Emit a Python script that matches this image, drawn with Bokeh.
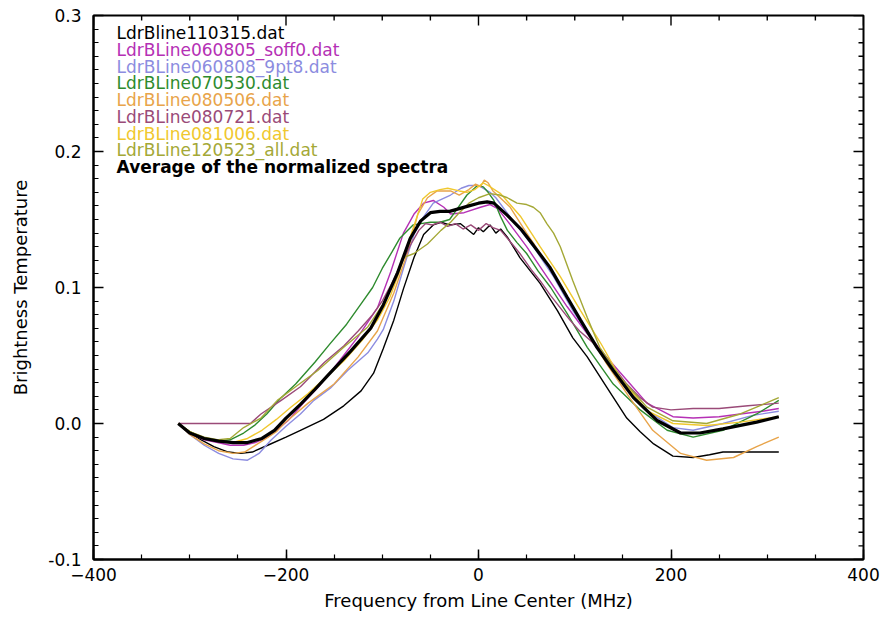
from bokeh.plotting import figure
from bokeh.models import FixedTicker, PrintfTickFormatter
from bokeh.embed import file_html
from bokeh.resources import INLINE

# ---- spectra (frequency offset in MHz, normalized brightness temperature) ----
x_110315 = [-312, -300, -288, -275, -260, -247, -235, -219, -200, -185, -161, -140, -122, -109,
            -99, -88, -78, -67, -57, -47, -39, -30, -19, -12, -5, 0, 5, 12, 18, 23, 30, 43, 54,
            64, 82, 98, 113, 133, 154, 168, 182, 202, 223, 240, 254, 280, 312]
y_110315 = [0.0, -0.007, -0.012, -0.017, -0.021, -0.022, -0.021, -0.016, -0.010, -0.005, 0.003,
            0.013, 0.024, 0.037, 0.055, 0.076, 0.099, 0.122, 0.139, 0.146, 0.148, 0.146, 0.147,
            0.143, 0.139, 0.144, 0.141, 0.146, 0.140, 0.143, 0.137, 0.122, 0.112, 0.103, 0.083,
            0.063, 0.049, 0.027, 0.004, -0.006, -0.015, -0.024, -0.025, -0.023, -0.021, -0.021,
            -0.021]

x_060805 = [-312, -300, -285, -271, -258, -244, -232, -219, -198, -182, -165, -150, -126, -105,
            -91, -78, -67, -57, -47, -36, -29, -15, 2, 12, 20, 30, 50, 71, 92, 113, 133, 154,
            175, 202, 223, 250, 272, 295, 312]
y_060805 = [0.0, -0.007, -0.012, -0.014, -0.016, -0.016, -0.014, -0.010, 0.002, 0.015, 0.028,
            0.041, 0.063, 0.085, 0.112, 0.140, 0.154, 0.162, 0.164, 0.159, 0.154, 0.155, 0.159,
            0.161, 0.158, 0.149, 0.130, 0.108, 0.086, 0.066, 0.049, 0.032, 0.015, 0.005, 0.004,
            0.005, 0.007, 0.009, 0.011]

x_060808 = [-312, -300, -285, -270, -255, -240, -228, -216, -200, -185, -171, -154, -136, -115,
            -105, -99, -88, -78, -67, -60, -47, -29, -18, -10, 0, 12, 18, 36, 57, 78, 98, 123,
            147, 175, 202, 223, 254, 285, 312]
y_060808 = [0.0, -0.008, -0.016, -0.022, -0.026, -0.027, -0.022, -0.0125, -0.002, 0.007, 0.017,
            0.026, 0.039, 0.052, 0.062, 0.069, 0.090, 0.114, 0.139, 0.149, 0.162, 0.168, 0.173,
            0.175, 0.175, 0.170, 0.166, 0.149, 0.130, 0.108, 0.083, 0.056, 0.032, 0.0095,
            -0.003, -0.005, 0.0, 0.006, 0.009]

x_070530 = [-312, -300, -285, -271, -258, -244, -232, -220, -205, -190, -170, -155, -137, -120,
            -110, -100, -90, -82, -75, -68, -60, -50, -40, -30, -22, -12, -1, 5, 10, 16, 23, 30,
            40, 50, 62, 75, 92, 113, 140, 168, 196, 223, 254, 289, 312]
y_070530 = [0.0, -0.006, -0.011, -0.013, -0.012, -0.007, -0.001, 0.007, 0.019, 0.029, 0.045,
            0.058, 0.073, 0.090, 0.100, 0.114, 0.126, 0.136, 0.141, 0.146, 0.147, 0.148, 0.148,
            0.150, 0.158, 0.168, 0.175, 0.174, 0.170, 0.164, 0.152, 0.142, 0.133, 0.125, 0.112,
            0.100, 0.081, 0.056, 0.029, 0.010, -0.005, -0.010, -0.005, 0.007, 0.017]

x_080506 = [-312, -300, -285, -270, -255, -243, -225, -210, -202, -177, -150, -125, -105, -88,
            -74, -63, -53, -43, -29, -20, -10, -3, 2, 6, 10, 15, 33, 50, 71, 92, 113, 133, 157,
            181, 210, 237, 265, 289, 312]
y_080506 = [0.0, -0.008, -0.015, -0.020, -0.022, -0.021, -0.013, -0.006, 0.0, 0.015, 0.029,
            0.049, 0.068, 0.096, 0.125, 0.154, 0.166, 0.171, 0.171, 0.168, 0.172, 0.176, 0.174,
            0.179, 0.177, 0.171, 0.159, 0.140, 0.118, 0.093, 0.068, 0.044, 0.019, -0.005,
            -0.022, -0.027, -0.025, -0.017, -0.010]

x_080721 = [-312, -280, -250, -237, -226, -205, -185, -160, -140, -125, -110, -100, -90, -80,
            -70, -62, -55, -48, -40, -32, -24, -16, -8, 0, 8, 15, 23, 35, 43, 55, 64, 75, 85, 95,
            105, 118, 127, 140, 154, 168, 181, 200, 223, 250, 280, 312]
y_080721 = [0.0, 0.0, 0.0, 0.0, 0.007, 0.017, 0.027, 0.045, 0.057, 0.068, 0.080, 0.090, 0.103,
            0.118, 0.132, 0.142, 0.147, 0.146, 0.148, 0.145, 0.147, 0.143, 0.146, 0.142, 0.147,
            0.144, 0.142, 0.132, 0.125, 0.113, 0.105, 0.094, 0.085, 0.076, 0.068, 0.060, 0.054,
            0.042, 0.029, 0.019, 0.012, 0.010, 0.011, 0.011, 0.013, 0.015]

x_081006 = [-312, -300, -285, -271, -255, -240, -225, -210, -195, -177, -160, -140, -120, -105,
            -92, -82, -72, -62, -58, -50, -40, -32, -20, -12, -4, 5, 10, 23, 44, 64, 85, 106,
            127, 147, 175, 202, 237, 272, 312]
y_081006 = [0.0, -0.006, -0.011, -0.013, -0.014, -0.011, -0.005, 0.003, 0.012, 0.022, 0.033,
            0.046, 0.062, 0.076, 0.093, 0.112, 0.135, 0.156, 0.165, 0.170, 0.172, 0.173, 0.171,
            0.170, 0.172, 0.177, 0.175, 0.169, 0.152, 0.130, 0.108, 0.083, 0.059, 0.034, 0.0095,
            0.0, -0.0015, 0.001, 0.005]

x_120523 = [-312, -300, -285, -270, -258, -244, -226, -209, -190, -167, -140, -115, -99, -88,
            -78, -67, -53, -39, -29, -20, -10, 0, 12, 22, 30, 40, 50, 57, 64, 71, 78, 85, 98,
            113, 126, 147, 175, 202, 237, 272, 312]
y_120523 = [0.0, -0.006, -0.010, -0.012, -0.011, -0.003, 0.004, 0.017, 0.027, 0.039, 0.056,
            0.071, 0.088, 0.105, 0.122, 0.125, 0.132, 0.142, 0.148, 0.155, 0.162, 0.166, 0.169,
            0.168, 0.166, 0.162, 0.161, 0.159, 0.155, 0.147, 0.140, 0.130, 0.105, 0.078, 0.056,
            0.034, 0.012, 0.002, 0.0, 0.007, 0.019]

x_avg = [-312, -300, -285, -270, -255, -240, -225, -212, -200, -185, -170, -157, -133, -112,
         -99, -84, -71, -60, -50, -40, -30, -20, -10, 0, 9, 16, 30, 44, 57, 74, 92, 106, 123,
         140, 161, 186, 210, 230, 254, 289, 312]
y_avg = [0.0, -0.007, -0.011, -0.013, -0.014, -0.014, -0.011, -0.005, 0.004, 0.014, 0.025,
         0.035, 0.053, 0.070, 0.087, 0.111, 0.136, 0.149, 0.155, 0.156, 0.156, 0.158, 0.160,
         0.162, 0.163, 0.162, 0.153, 0.143, 0.131, 0.115, 0.093, 0.076, 0.056, 0.039, 0.019,
         0.002, -0.007, -0.007, -0.004, 0.001, 0.005]

names = ["LdrBline110315.dat", "LdrBLine060805_soff0.dat", "LdrBLine060808_9pt8.dat",
         "LdrBLine070530.dat", "LdrBLine080506.dat", "LdrBLine080721.dat",
         "LdrBLine081006.dat", "LdrBLine120523_all.dat"]
avg_name = "Average of the normalized spectra"
series_x = [x_110315, x_060805, x_060808, x_070530, x_080506, x_080721, x_081006, x_120523]
series_y = [y_110315, y_060805, y_060808, y_070530, y_080506, y_080721, y_081006, y_120523]
colors = ["#000000", "#B530B5", "#8C8CE0", "#2E8B2E", "#E8A44A", "#9A4A78", "#F0C82E", "#A4A836"]

# axis ticks
x_major = [-400, -200, 0, 200, 400]
x_minor = [-400 + 50 * i for i in range(17)]
y_major = [-0.1, 0.0, 0.1, 0.2, 0.3]
y_minor = [round(-0.1 + 0.01 * i, 2) for i in range(41)]

FONT = "DejaVu Sans"
X0, X1, Y0, Y1 = -400, 400, -0.1, 0.3

W, H = 883, 621
BL, BR, BT, BB = 93, 20, 15, 62

p = figure(width=W, height=H, x_range=(X0, X1), y_range=(Y0, Y1),
           output_backend="svg", toolbar_location=None,
           min_border_left=BL, min_border_right=BR, min_border_top=BT, min_border_bottom=BB)
p.background_fill_color = "white"
p.border_fill_color = "white"
p.xgrid.visible = False
p.ygrid.visible = False
p.outline_line_color = "black"
p.outline_line_width = 2

for ax, major, minor in ((p.xaxis[0], x_major, x_minor), (p.yaxis[0], y_major, y_minor)):
    ax.ticker = FixedTicker(ticks=major, minor_ticks=minor)
    ax.axis_line_color = "black"
    ax.axis_line_width = 2
    ax.major_tick_line_color = "black"
    ax.minor_tick_line_color = "black"
    ax.major_tick_line_width = 1.5
    ax.minor_tick_line_width = 1.2
    ax.major_tick_in = 10
    ax.major_tick_out = 0
    ax.minor_tick_in = 5
    ax.minor_tick_out = 0
    ax.major_label_text_font = FONT
    ax.major_label_text_font_size = "17px"
    ax.major_label_text_color = "black"
    ax.axis_label_text_font = FONT
    ax.axis_label_text_font_size = "18px"
    ax.axis_label_text_font_style = "normal"
    ax.axis_label_text_color = "black"

p.xaxis[0].axis_label = "Frequency from Line Center (MHz)"
p.yaxis[0].axis_label = "Brightness Temperature"
p.yaxis[0].formatter = PrintfTickFormatter(format="%.1f")
p.xaxis[0].major_label_standoff = 8
p.xaxis[0].axis_label_standoff = 6
p.yaxis[0].major_label_standoff = 12
p.yaxis[0].axis_label_standoff = 14

# mirrored inward ticks along the top and right edges of the frame
frame_w = W - BL - BR
frame_h = H - BT - BB
px_x = (X1 - X0) / frame_w      # data units per pixel, horizontal
px_y = (Y1 - Y0) / frame_h      # data units per pixel, vertical


def tick_len(v, major, length_major, length_minor):
    return length_major if any(abs(v - m) < 1e-9 for m in major) else length_minor


top_x = x_minor
top_len = [tick_len(v, x_major, 10, 5) * px_y for v in top_x]
p.segment(x0=top_x, y0=[Y1] * len(top_x), x1=top_x, y1=[Y1 - d for d in top_len],
          line_color="black", line_width=1.4)
right_y = y_minor
right_len = [tick_len(v, y_major, 10, 5) * px_x for v in right_y]
p.segment(x0=[X1] * len(right_y), y0=right_y, x1=[X1 - d for d in right_len], y1=right_y,
          line_color="black", line_width=1.4)

for xs, ys, c in zip(series_x, series_y, colors):
    p.line(xs, ys, line_color=c, line_width=1.4)
p.line(x_avg, y_avg, line_color="black", line_width=3.2)

# stacked legend text in the upper-left corner
legend_x = -376
legend_top = 0.287
legend_step = 0.0123
for i, (name, c) in enumerate(zip(names, colors)):
    p.text(x=[legend_x], y=[legend_top - i * legend_step], text=[name],
           text_color=c, text_font_size="17px", text_baseline="middle",
           text_font={"value": FONT})
p.text(x=[legend_x], y=[legend_top - len(names) * legend_step], text=[avg_name],
       text_color="black", text_font_size="17px", text_font_style="bold",
       text_baseline="middle", text_font={"value": FONT})

open("out.html", "w").write(file_html(p, INLINE))
